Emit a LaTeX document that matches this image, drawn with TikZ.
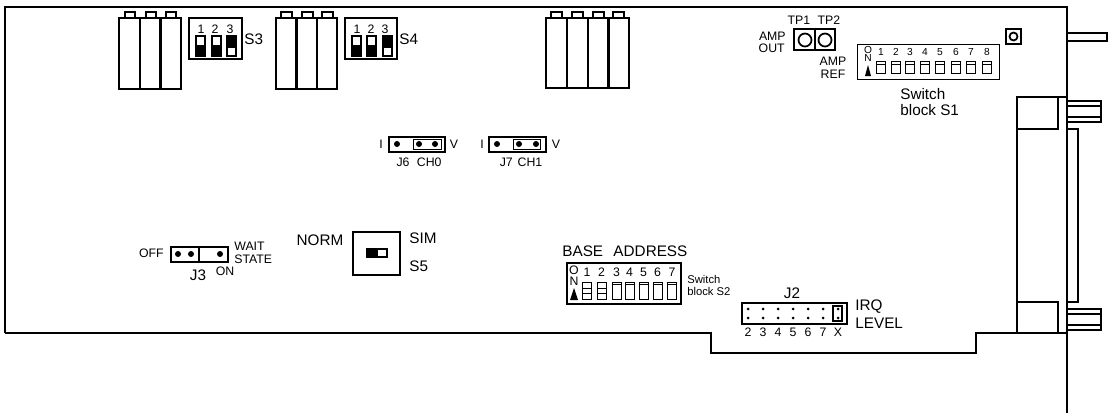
\documentclass[tikz,border=0pt]{standalone}
\usepackage{fontspec}
\setmainfont{Liberation Sans}
\tikzset{
	board/.style={line width=1.25pt},
	part/.style={line width=1pt},
	thinpart/.style={line width=0.55pt},
	biglabel/.style={inner sep=0pt, font=\fontsize{8.7}{10}\selectfont},
	midlabel/.style={inner sep=0pt, font=\fontsize{7}{8}\selectfont},
	smalllabel/.style={inner sep=0pt, font=\fontsize{6.4}{7}\selectfont},
	tinylabel/.style={inner sep=0pt, font=\fontsize{5.8}{6}\selectfont}
}
\begin{document}
\begin{tikzpicture}[x=0.02cm, y=-0.02cm]
	\useasboundingbox (0,0) rectangle (1112,413);
	% card outline
	\draw [board] (5,333) -- (5,7) -- (1067,7) -- (1067,413);
	\draw [board] (5,333) -- (711,333) -- (711,353) -- (976,353) -- (976,333) -- (1067,333);
	\draw [part] (1067,33) rectangle (1107,41);
	% connector
	\draw [part] (1017,333) -- (1017,97) -- (1067,97);
	\draw [part] (1017,129) -- (1058,129) -- (1058,97);
	\draw [part] (1017,302) -- (1058,302) -- (1058,333);
	\draw [part] (1067,129) -- (1078,129) -- (1078,302) -- (1067,302);
	\draw [part] (1067,101) rectangle (1101,122);
	\draw [part] (1067,106) -- (1101,106);
	\draw [part] (1067,117) -- (1101,117);
	\draw [part] (1067,309) rectangle (1101,330);
	\draw [part] (1067,314) -- (1101,314);
	\draw [part] (1067,325) -- (1101,325);
	% trimmers
	\foreach \x in {119,140,160}
		\draw [part] (\x,18) rectangle (\x+21,89) (\x+6,18) -- (\x+6,12) -- (\x+16,12) -- (\x+16,18);
	\foreach \x in {276,297,317}
		\draw [part] (\x,18) rectangle (\x+20,89) (\x+5,18) -- (\x+5,12) -- (\x+16,12) -- (\x+16,18);
	\foreach \x in {546,567,588,608}
		\draw [part] (\x,18) rectangle (\x+21,88) (\x+5,18) -- (\x+5,12) -- (\x+16,12) -- (\x+16,18);
	% S3
	\draw [part] (189,18) rectangle (242,59);
	\foreach \n/\x in {1/201,2/215,3/230}
		\node [midlabel] (s3n\n) at (\x,29) {\n};
	\fill (195,35) rectangle (206,57);
	\fill (211,35) rectangle (222,57);
	\fill (226,35) rectangle (237,57);
	\fill [white] (197,37) rectangle (204,45);
	\fill [white] (213,37) rectangle (220,45);
	\fill [white] (228,48) rectangle (235,55);
	\node [biglabel, anchor=west] (s3) at (244,39) {S3};
	% S4
	\draw [part] (345,18) rectangle (397,59);
	\foreach \n/\x in {1/357,2/371,3/385}
		\node [midlabel] (s4n\n) at (\x,29) {\n};
	\fill (351,35) rectangle (362,57);
	\fill (366,35) rectangle (377,57);
	\fill (382,35) rectangle (393,57);
	\fill [white] (353,37) rectangle (360,45);
	\fill [white] (368,37) rectangle (375,45);
	\fill [white] (384,48) rectangle (391,55);
	\node [biglabel, anchor=west] (s4) at (399,39) {S4};
	% test points
	\draw [part] (794,29) rectangle (835,50);
	\draw [part] (815,29) -- (815,50);
	\draw [part] (805,40) circle (6.5);
	\draw [part] (825,40) circle (6.5);
	\draw [part] (1006,29) rectangle (1021,44);
	\draw [part] (1013.5,36.5) circle (4);
	\node [midlabel] (tp1) at (799,20) {TP1};
	\node [midlabel] (tp2) at (829,20) {TP2};
	\node [midlabel, anchor=east] (ampout) at (786,36) {AMP};
	\node [midlabel, anchor=east] (ampout2) at (785,48) {OUT};
	\node [midlabel] (ampref) at (833,61) {AMP};
	\node [midlabel] (ampref2) at (833,74) {REF};
	% S1
	\draw [thinpart] (857,44) rectangle (999,79);
	\node [tinylabel] (s1o) at (868,50) {O};
	\node [tinylabel] (s1on) at (868,58) {N};
	\fill (868,65) -- (871,76) -- (865,76) -- cycle;
	\foreach \n/\x in {1/881,2/896,3/910,4/925,5/940,6/956,7/971,8/987}
	{
		\node [tinylabel] (s1n\n) at (\x,52) {\n};
		\draw [thinpart] (\x-4.5,61) rectangle (\x+4.5,73) (\x-4.5,64) -- (\x+4.5,64);
	}
	\node [biglabel, anchor=west] (s1) at (900,94) {Switch};
	\node [biglabel, anchor=west] (s1b) at (900,110) {block S1};
	% J6, J7
	\draw [part] (389,137) rectangle (445,152);
	\draw [thinpart] (413,139) rectangle (441,149);
	\foreach \x in {397,419,435}
		\fill (\x,144) circle (3);
	\node [midlabel] (j6i) at (381,144) {I};
	\node [midlabel] (j6v) at (454,144) {V};
	\node [midlabel] (j6) at (419,162) {J6\hspace{0.6em}CH0};
	\draw [part] (489,137) rectangle (546,152);
	\draw [thinpart] (513,139) rectangle (540,149);
	\foreach \x in {497,519,536}
		\fill (\x,144) circle (3);
	\node [midlabel] (j7i) at (482,144) {I};
	\node [midlabel] (j7v) at (556,144) {V};
	\node [midlabel] (j7) at (521,162) {J7\hspace{0.4em}CH1};
	% J3
	\draw [part] (171,247) rectangle (228,262);
	\draw [part] (199,247) -- (199,262);
	\foreach \x in {178,191,220}
		\fill (\x,254) circle (3);
	\node [midlabel, anchor=east] (off) at (164,253) {OFF};
	\node [midlabel, anchor=west] (wait) at (234,246) {WAIT};
	\node [midlabel, anchor=west] (state) at (234,259) {STATE};
	\node [midlabel] (on) at (225,271) {ON};
	\node [biglabel] (j3) at (198,275) {J3};
	% S5
	\draw [part] (353,232) rectangle (400,275);
	\fill (366,248) rectangle (388,258);
	\fill [white] (378,250) rectangle (386,256);
	\node [biglabel] (norm) at (320,240) {NORM};
	\node [biglabel, anchor=west] (sim) at (409,238) {SIM};
	\node [biglabel, anchor=west] (s5) at (409,266) {S5};
	% S2
	\node [biglabel, anchor=west] (base) at (562,251) {BASE\hspace{0.4em} ADDRESS};
	\draw [part] (567,263) rectangle (681,304);
	\node [midlabel] (s2o) at (574,270) {O};
	\node [midlabel] (s2on) at (574,281) {N};
	\fill (574,288) -- (578,300) -- (570,300) -- cycle;
	\foreach \n/\x in {1/587,2/601.5,3/616.5,4/629.5,5/643.5,6/657.5,7/672}
	{
		\node [midlabel] (s2n\n) at (\x,272) {\n};
		\draw [thinpart] (\x-4.5,282) rectangle (\x+4.5,299);
	}
	\foreach \x in {587,601.5}
		\draw [thinpart] (\x-4.5,288) -- (\x+4.5,288) (\x-4.5,293) -- (\x+4.5,293);
	\foreach \x in {616.5,629.5,643.5,657.5,672}
		\draw [thinpart] (\x-4.5,284) -- (\x+4.5,284);
	\node [smalllabel, anchor=west] (s2) at (687,279) {Switch};
	\node [smalllabel, anchor=west] (s2b) at (687,291) {block S2};
	% J2
	\node [biglabel] (j2) at (792,293) {J2};
	\draw [part] (742,303) rectangle (847,324);
	\draw [part] (833,306) rectangle (842,321);
	\foreach \n/\x in {2/748,3/763,4/778,5/793,6/808,7/823,X/838}
	{
		\fill (\x,309) circle (1.5);
		\fill (\x,318) circle (1.5);
		\node [midlabel] (j2n\n) at (\x,332) {\n};
	}
	\node [biglabel, anchor=west] (irq) at (855,307) {IRQ};
	\node [biglabel, anchor=west] (level) at (855,323) {LEVEL};
\end{tikzpicture}
\end{document}
